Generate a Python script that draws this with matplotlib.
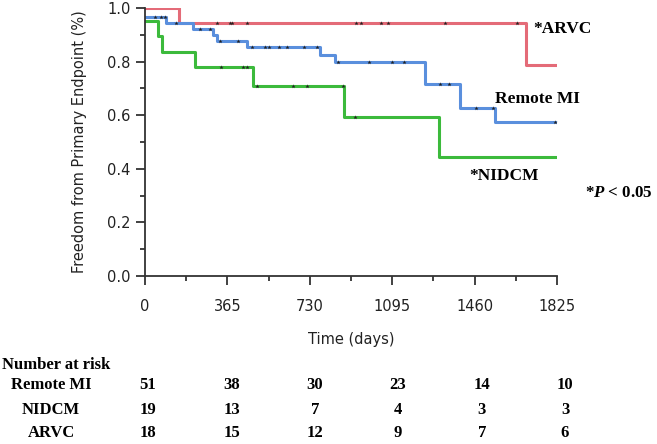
import numpy as np
import matplotlib.pyplot as plt
from matplotlib.ticker import MultipleLocator

plt.rcParams["mathtext.fontset"] = "custom"
plt.rcParams["mathtext.it"] = "Liberation Serif:italic:bold"
plt.rcParams["mathtext.rm"] = "Liberation Serif:bold"

# Kaplan-Meier steps (days, survival)
arvc_t = [0, 150, 1687, 1825]
arvc_s = [1.0, 0.945, 0.787, 0.787]
arvc_cens_t = [320, 377, 384, 453, 935, 957, 1044, 1078, 1329, 1647]

mi_t = [0, 93, 211, 303, 320, 453, 776, 842, 1241, 1396, 1551, 1825]
mi_s = [0.968, 0.943, 0.922, 0.899, 0.878, 0.853, 0.825, 0.797, 0.716, 0.626, 0.573, 0.573]
mi_cens_t = [44, 70, 89, 137, 244, 288, 332, 413, 473, 532, 551, 595, 630, 704,
             763, 856, 994, 1096, 1149, 1307, 1348, 1467, 1543, 1816]

nidcm_t = [0, 59, 74, 222, 480, 882, 1304, 1825]
nidcm_s = [0.951, 0.896, 0.837, 0.781, 0.710, 0.594, 0.445, 0.445]
nidcm_cens_t = [337, 433, 453, 498, 654, 716, 876, 930]

xticks = [0, 365, 730, 1095, 1460, 1825]
risk_groups = ["Remote MI", "NIDCM", "ARVC"]
risk_counts = {
    "Remote MI": [51, 38, 30, 23, 14, 10],
    "NIDCM": [19, 13, 7, 4, 3, 3],
    "ARVC": [18, 15, 12, 9, 7, 6],
}

red = "#e46b78"
blue = "#5a8fdd"
green = "#3cba3c"


def step_value(t, s, x):
    i = np.searchsorted(t, x, side="right") - 1
    return s[i]


fig = plt.figure(figsize=(6.57, 4.44), dpi=100)
ax = fig.add_axes([145 / 657, 1 - 276 / 444, 412 / 657, 268 / 444])

for t, s, c, ct in [(arvc_t, arvc_s, red, arvc_cens_t),
                    (mi_t, mi_s, blue, mi_cens_t),
                    (nidcm_t, nidcm_s, green, nidcm_cens_t)]:
    ax.step(t, s, where="post", color=c, lw=2.2, zorder=2)
    cy = [step_value(t, s, x) for x in ct]
    ax.plot(ct, cy, ls="none", marker="*", ms=3.2, mew=0, color="#222222", zorder=3)

ax.set_xlim(0, 1825)
ax.set_ylim(0, 1.0)
ax.set_xticks(xticks)
ax.xaxis.set_minor_locator(MultipleLocator(182.5))
ax.set_yticks(np.arange(0, 1.01, 0.2))
ax.yaxis.set_minor_locator(MultipleLocator(0.1))
ax.set_yticklabels([f"{v:.1f}" for v in np.arange(0, 1.01, 0.2)])
for sp in ["top", "right"]:
    ax.spines[sp].set_visible(False)
for sp in ["left", "bottom"]:
    ax.spines[sp].set_color("#333333")
    ax.spines[sp].set_linewidth(1.3)
ax.tick_params(which="major", direction="out", length=6.5, width=1.3, color="#333333",
               labelsize=10.5, labelcolor="#222222", pad=4)
ax.tick_params(which="minor", direction="out", length=3.5, width=1.3, color="#333333")
ax.tick_params(axis="x", which="major", pad=10)
ax.set_xlabel("Time (days)", fontsize=10.5, color="#222222", labelpad=13)
ax.set_ylabel("Freedom from Primary Endpoint (%)", fontsize=10.5, color="#222222", labelpad=14)

serif = "Liberation Serif"
ax.text(1720, 0.92, "*ARVC", fontfamily=serif, fontweight="bold", fontsize=12.5, va="center")
ax.text(1550, 0.66, "Remote MI", fontfamily=serif, fontweight="bold", fontsize=12.5, va="center")
ax.text(1435, 0.373, "*NIDCM", fontfamily=serif, fontweight="bold", fontsize=12.5, va="center")
fig.text(585 / 657, 1 - 193 / 444, r"*$P$ < 0.05", fontfamily=serif,
         fontweight="bold", fontsize=12.2, va="center")

# number at risk table
col_x = [148, 232, 315, 398, 482, 565]
row_y = [385, 410, 433]
fig.text(2 / 657, 1 - 365 / 444, "Number at risk", fontfamily=serif, fontweight="bold",
         fontsize=12, va="center")
for g, y in zip(risk_groups, row_y):
    fig.text(51 / 657, 1 - y / 444, g, fontfamily=serif, fontweight="bold", fontsize=12,
             va="center", ha="center")
    for x, n in zip(col_x, risk_counts[g]):
        fig.text(x / 657, 1 - y / 444, str(n), fontfamily=serif, fontweight="bold",
                 fontsize=12, va="center", ha="center")

fig.savefig("out.png", dpi=100)
